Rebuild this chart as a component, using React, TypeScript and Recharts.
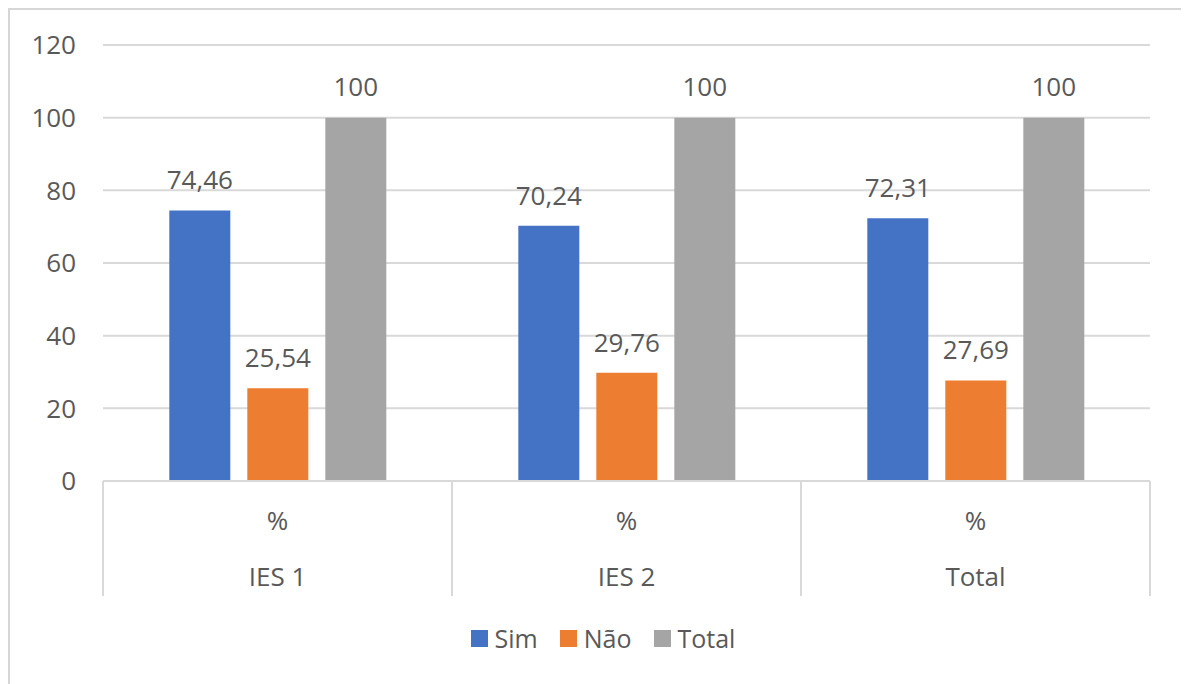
import React from 'react';
import { BarChart, Bar, XAxis, YAxis, CartesianGrid, Legend, LabelList } from 'recharts';

const categories = ['IES 1', 'IES 2', 'Total'];
const subLabels = ['%', '%', '%'];
const seriesNames = ['Sim', 'Não', 'Total'];
const simValues = [74.46, 70.24, 72.31];
const naoValues = [25.54, 29.76, 27.69];
const totalValues = [100, 100, 100];
const yTicks = [0, 20, 40, 60, 80, 100, 120];

const data = categories.map((c, i) => ({
  group: c,
  sub: subLabels[i],
  Sim: simValues[i],
  'Não': naoValues[i],
  Total: totalValues[i],
}));

const FONT = '"Open Sans", sans-serif';
const TEXT = '#595959';
const LINE = '#d9d9d9';
const FS = 26;

const CategoryTick = (props: any) => {
  const { x, y, payload, index, visibleTicksCount, width } = props;
  const half = payload && payload.offset ? payload.offset : width / visibleTicksCount / 2;
  const d = data[index];
  return (
    <g>
      <line x1={x - half} x2={x - half} y1={y} y2={y + 115} stroke={LINE} strokeWidth={2} />
      {index === visibleTicksCount - 1 && (
        <line x1={x + half} x2={x + half} y1={y} y2={y + 115} stroke={LINE} strokeWidth={2} />
      )}
      <text x={x} y={y + 40} dy="0.35em" textAnchor="middle" fill={TEXT} fontSize={FS} fontFamily={FONT}>
        {d ? d.sub : ''}
      </text>
      <text x={x} y={y + 96} dy="0.35em" textAnchor="middle" fill={TEXT} fontSize={FS} fontFamily={FONT}>
        {payload.value}
      </text>
    </g>
  );
};

const renderLegend = (props: any) => {
  const payload = [...(props.payload || [])].sort(
    (a: any, b: any) => seriesNames.indexOf(a.value) - seriesNames.indexOf(b.value)
  );
  return (
    <div
      style={{
        display: 'flex',
        justifyContent: 'center',
        alignItems: 'center',
        height: 30,
        paddingLeft: 46,
        fontFamily: FONT,
        fontSize: 25,
        color: TEXT,
      }}
    >
      {payload.map((p: any) => (
        <span key={p.value} style={{ display: 'flex', alignItems: 'center', margin: '0 11px' }}>
          <span style={{ display: 'inline-block', width: 17, height: 17, background: p.color, marginRight: 7 }} />
          {p.value}
        </span>
      ))}
    </div>
  );
};

const fmt = (v: any) => String(v).replace('.', ',');

export default function App() {
  return (
    <div style={{ width: 1176, height: 680, border: '2px solid #d6d6d6', background: '#fff' }}>
      <BarChart
        width={1176}
        height={680}
        data={data}
        margin={{ top: 35, right: 36, left: 0, bottom: 37 }}
        barCategoryGap="19%"
        barGap={17}
      >
        <CartesianGrid vertical={false} stroke={LINE} strokeWidth={2} />
        <XAxis
          dataKey="group"
          interval={0}
          height={142}
          tickLine={false}
          tickSize={0}
          tickMargin={0}
          axisLine={{ stroke: LINE, strokeWidth: 2 }}
          tick={<CategoryTick />}
        />
        <YAxis
          domain={[0, 120]}
          ticks={yTicks}
          width={93}
          axisLine={false}
          tickLine={false}
          tickSize={0}
          tickMargin={27}
          tick={{ fill: TEXT, fontSize: FS, fontFamily: FONT }}
        />
        <Legend verticalAlign="bottom" content={renderLegend} />
        <Bar dataKey="Sim" fill="#4472C4" isAnimationActive={false}>
          <LabelList dataKey="Sim" position="top" offset={21} formatter={fmt} fill={TEXT} fontSize={FS} fontFamily={FONT} />
        </Bar>
        <Bar dataKey="Não" fill="#ED7D31" isAnimationActive={false}>
          <LabelList dataKey="Não" position="top" offset={21} formatter={fmt} fill={TEXT} fontSize={FS} fontFamily={FONT} />
        </Bar>
        <Bar dataKey="Total" fill="#A5A5A5" isAnimationActive={false}>
          <LabelList dataKey="Total" position="top" offset={22} formatter={fmt} fill={TEXT} fontSize={FS} fontFamily={FONT} />
        </Bar>
      </BarChart>
    </div>
  );
}
